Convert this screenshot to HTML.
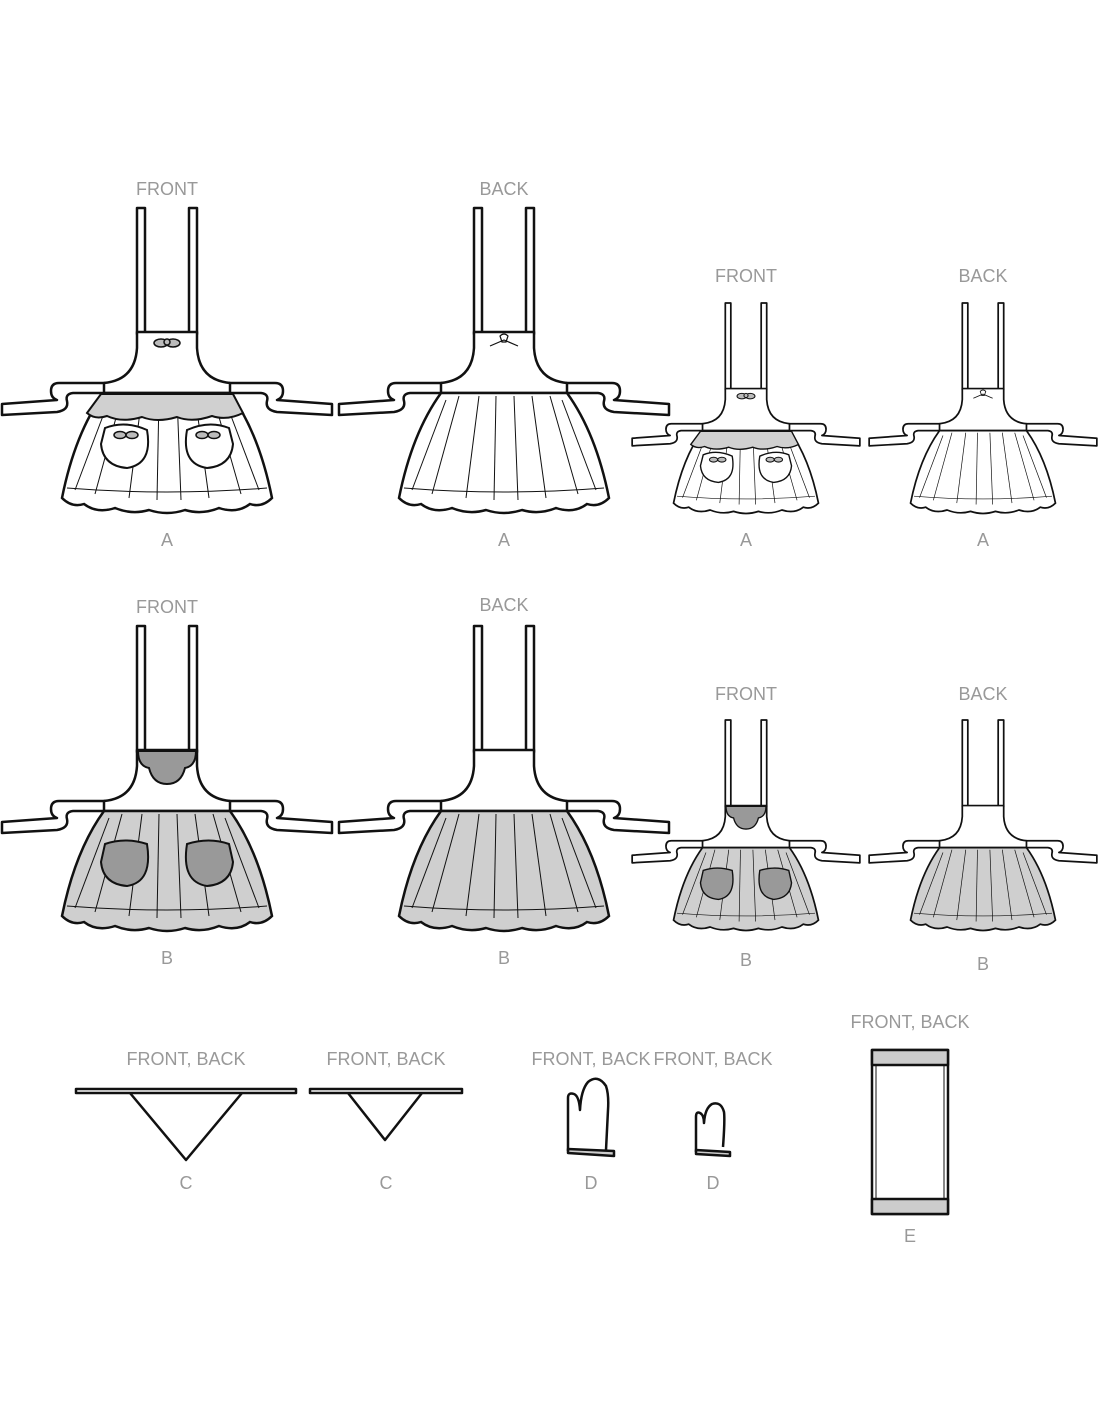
<!DOCTYPE html>
<html><head><meta charset="utf-8"><style>
html,body{margin:0;padding:0;background:#fff;}
svg{display:block}
text{font-family:"Liberation Sans",sans-serif;fill:#999;font-size:18px;text-anchor:middle}
</style></head><body>
<svg width="1100" height="1422" viewBox="0 0 1100 1422" xmlns="http://www.w3.org/2000/svg">
<defs>
<g id="base" stroke="#111" stroke-width="2.5" stroke-linejoin="round">
  <path d="M-62,175 L-108,175 Q-116,175 -116,183 Q-116,190 -110,192 L-165,196 L-165,207 L-110,204 Q-98,202 -100,193 Q-102,186 -94,185 L-62,185 Z" fill="#fff"/>
  <path d="M62,175 L108,175 Q116,175 116,183 Q116,190 110,192 L165,196 L165,207 L110,204 Q98,202 100,193 Q102,186 94,185 L62,185 Z" fill="#fff"/>
  <rect x="-30" y="0" width="8" height="126" fill="#fff"/>
  <rect x="22" y="0" width="8" height="126" fill="#fff"/>
  <path d="M-30,124 L30,124 L30,140 Q32,172 63,175 L63,185 L-63,185 L-63,175 Q-32,172 -30,140 Z" fill="#fff"/>
</g>
<path id="skirtP" d="M-63,185 L63,185 Q92,225 105,290 Q95,300 83,296 Q70,306 52,300 Q35,307 18,302 Q0,308 -18,302 Q-35,307 -52,300 Q-70,306 -83,296 Q-95,300 -105,290 Q-92,225 -63,185 Z"/>
<g id="folds" stroke="#111" stroke-width="1" fill="none">
   <path d="M-100,280 Q0,288 100,280"/>
   <path d="M-45,188 L-72,286"/><path d="M-25,188 L-38,290"/><path d="M-8,188 L-10,292"/><path d="M10,188 L14,292"/><path d="M28,188 L42,290"/><path d="M46,188 L74,286"/><path d="M-58,192 L-92,282"/><path d="M58,192 L92,282"/>
</g>
<g id="skirtW"><use href="#skirtP" fill="#fff" stroke="#111" stroke-width="2.5"/><use href="#folds"/></g>
<g id="skirtG"><use href="#skirtP" fill="#cfcfcf" stroke="#111" stroke-width="2.5"/><use href="#folds"/></g>
<g id="frontA">
  <use href="#base"/><use href="#skirtW"/>
  <path d="M-66,186 L66,186 L76,205 Q60,213 45,208 Q25,215 10,209 Q-10,215 -25,209 Q-45,215 -60,208 Q-72,212 -80,205 Z" fill="#d0d0d0" stroke="#111" stroke-width="2"/>
  <g stroke="#111" stroke-width="2" fill="#fff">
    <path d="M-62,220 Q-42,212 -20,222 Q-14,256 -40,260 Q-64,258 -66,236 Z"/>
    <path d="M62,220 Q42,212 20,222 Q14,256 40,260 Q64,258 66,236 Z"/>
  </g>
  <g fill="#bbb" stroke="#111" stroke-width="1.5">
    <ellipse cx="-6" cy="135" rx="7" ry="4"/><ellipse cx="6" cy="135" rx="7" ry="4"/><circle cx="0" cy="134" r="3"/>
    <ellipse cx="-47" cy="227" rx="6" ry="3.5"/><ellipse cx="-35" cy="227" rx="6" ry="3.5"/>
    <ellipse cx="35" cy="227" rx="6" ry="3.5"/><ellipse cx="47" cy="227" rx="6" ry="3.5"/>
  </g>
</g>
<g id="backA">
  <use href="#base"/><use href="#skirtW"/>
  <path d="M-4,128 Q0,124 4,128 L2,134 L-2,134 Z M-14,138 L0,132 L14,138" fill="none" stroke="#111" stroke-width="1.2"/>
</g>
<g id="frontB">
  <use href="#base"/><use href="#skirtG"/>
  <path d="M-29,125 L29,125 Q29,140 18,142 Q14,158 0,158 Q-14,158 -18,142 Q-29,140 -29,125 Z" fill="#999" stroke="#111" stroke-width="2"/>
  <g stroke="#111" stroke-width="2" fill="#999">
    <path d="M-62,218 Q-42,211 -20,218 Q-14,256 -40,260 Q-64,258 -66,236 Z"/>
    <path d="M62,218 Q42,211 20,218 Q14,256 40,260 Q64,258 66,236 Z"/>
  </g>
</g>
<g id="backB">
  <use href="#base"/><use href="#skirtG"/>
</g>
</defs>

<text x="167" y="195">FRONT</text>
<text x="504" y="195">BACK</text>
<text x="746" y="282">FRONT</text>
<text x="983" y="282">BACK</text>
<use href="#frontA" transform="translate(167,208)"/>
<use href="#backA" transform="translate(504,208)"/>
<use href="#frontA" transform="translate(746,303) scale(0.69)"/>
<use href="#backA" transform="translate(983,303) scale(0.69)"/>
<text x="167" y="546">A</text><text x="504" y="546">A</text>
<text x="746" y="546">A</text><text x="983" y="546">A</text>

<text x="167" y="613">FRONT</text>
<text x="504" y="611">BACK</text>
<text x="746" y="700">FRONT</text>
<text x="983" y="700">BACK</text>
<use href="#frontB" transform="translate(167,626)"/>
<use href="#backB" transform="translate(504,626)"/>
<use href="#frontB" transform="translate(746,720) scale(0.69)"/>
<use href="#backB" transform="translate(983,720) scale(0.69)"/>
<text x="167" y="964">B</text><text x="504" y="964">B</text>
<text x="746" y="966">B</text><text x="983" y="970">B</text>

<text x="186" y="1065">FRONT, BACK</text>
<text x="386" y="1065">FRONT, BACK</text>
<text x="591" y="1065">FRONT, BACK</text>
<text x="713" y="1065">FRONT, BACK</text>
<text x="910" y="1028">FRONT, BACK</text>
<g stroke="#111" stroke-width="2.5" fill="#fff" stroke-linejoin="round">
  <rect x="76" y="1089" width="220" height="4"/>
  <path d="M130,1093 L186,1160 L242,1093" fill="none"/>
  <rect x="310" y="1089" width="152" height="4"/>
  <path d="M348,1093 L385,1140 L422,1093" fill="none"/>
  <path d="M568,1151 L568,1098 Q568,1092 574,1094 Q579,1096 580,1110 Q581,1090 588,1082 Q598,1074 606,1086 Q609,1095 608,1110 L606,1150"/>
  <path d="M568,1149 L614,1151 L614,1156 L568,1153 Z" fill="#ccc"/>
  <path d="M696,1152 L696,1117 Q696,1111 700,1113 Q704,1115 704,1123 Q705,1108 712,1104 Q721,1101 724,1112 Q725,1120 723,1147"/>
  <path d="M696,1150 L730,1152 L730,1156 L696,1154 Z" fill="#ccc"/>
  <rect x="872" y="1050" width="76" height="164"/>
  <rect x="872" y="1050" width="76" height="15" fill="#ccc"/>
  <rect x="872" y="1199" width="76" height="15" fill="#ccc"/>
  <path d="M876,1065 L876,1199 M944,1065 L944,1199" stroke-width="1"/>
</g>
<text x="186" y="1189">C</text><text x="386" y="1189">C</text>
<text x="591" y="1189">D</text><text x="713" y="1189">D</text>
<text x="910" y="1242">E</text>
</svg>
</body></html>
